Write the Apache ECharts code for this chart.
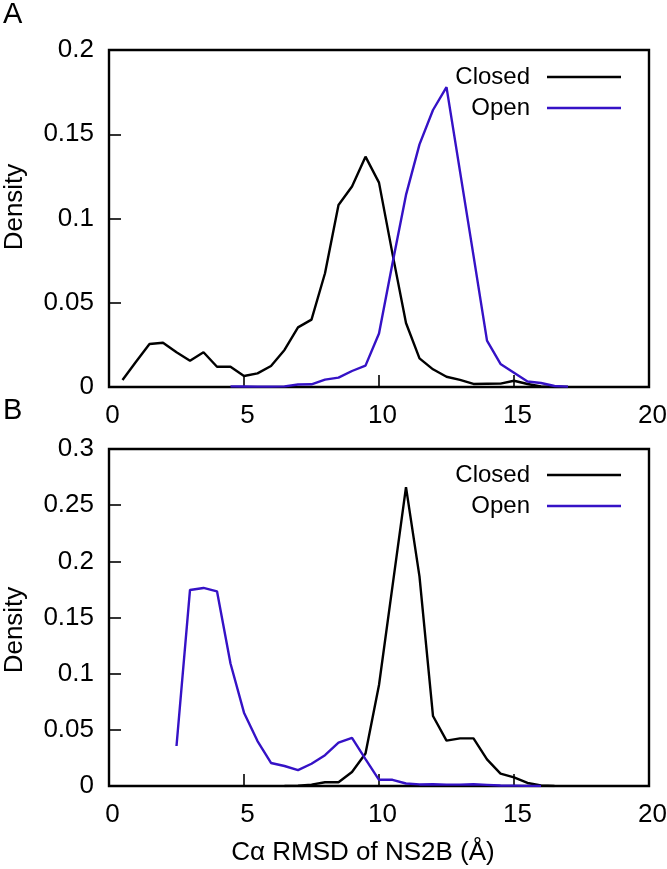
<!DOCTYPE html>
<html>
<head>
<meta charset="utf-8">
<script src="https://cdn.jsdelivr.net/npm/echarts@6/dist/echarts.min.js"></script>
<style>
html, body { margin: 0; padding: 0; background: #fff; }
#chart { width: 667px; height: 869px; }
</style>
</head>
<body>
<div id="chart"></div>
<script>
// ---- Data ----
const seriesNames = ['Closed', 'Open'];
const xTicks = [0, 5, 10, 15, 20];

// Panel A
const aClosedX = [0.5, 1.0, 1.5, 2.0, 2.5, 3.0, 3.5, 4.0, 4.5, 5.0, 5.5, 6.0, 6.5, 7.0, 7.5, 8.0, 8.5, 9.0, 9.5, 10.0, 10.5, 11.0, 11.5, 12.0, 12.5, 13.0, 13.5, 14.0, 14.5, 15.0, 15.5, 16.0, 16.5, 17.0];
const aClosedY = [0.0042, 0.015, 0.0255, 0.0263, 0.0206, 0.0156, 0.0206, 0.012, 0.012, 0.0065, 0.0081, 0.0125, 0.022, 0.0354, 0.040, 0.0675, 0.108, 0.119, 0.1367, 0.1213, 0.079, 0.038, 0.017, 0.0105, 0.0061, 0.0042, 0.0018, 0.0019, 0.002, 0.0037, 0.0018, 0.0003, 0, 0];
const aOpenX = [4.5, 5.0, 5.5, 6.0, 6.5, 7.0, 7.5, 8.0, 8.5, 9.0, 9.5, 10.0, 10.5, 11.0, 11.5, 12.0, 12.5, 13.0, 13.5, 14.0, 14.5, 15.0, 15.5, 16.0, 16.5, 17.0];
const aOpenY = [0.0004, 0.0003, 0.0002, 0.0002, 0.0004, 0.0015, 0.0016, 0.0044, 0.0056, 0.0095, 0.0127, 0.0318, 0.0734, 0.114, 0.144, 0.1644, 0.178, 0.128, 0.078, 0.0275, 0.0137, 0.0085, 0.0033, 0.0024, 0.0006, 0.0002];

// Panel B
const bClosedX = [6.5, 7.0, 7.5, 8.0, 8.5, 9.0, 9.5, 10.0, 10.5, 11.0, 11.5, 12.0, 12.5, 13.0, 13.5, 14.0, 14.5, 15.0, 15.5, 16.0, 16.5];
const bClosedY = [0, 0.0003, 0.0012, 0.0033, 0.0033, 0.0125, 0.029, 0.0899, 0.178, 0.266, 0.1864, 0.0623, 0.0404, 0.0424, 0.0424, 0.0237, 0.011, 0.0077, 0.0027, 0.0005, 0];
const bOpenX = [2.5, 3.0, 3.5, 4.0, 4.5, 5.0, 5.5, 6.0, 6.5, 7.0, 7.5, 8.0, 8.5, 9.0, 9.5, 10.0, 10.5, 11.0, 11.5, 12.0, 12.5, 13.0, 13.5, 14.0, 14.5, 15.0, 15.5, 16.0];
const bOpenY = [0.0356, 0.1745, 0.1763, 0.1733, 0.109, 0.0653, 0.040, 0.0205, 0.0178, 0.0142, 0.0198, 0.0274, 0.0386, 0.0428, 0.024, 0.0055, 0.0055, 0.0022, 0.0014, 0.0015, 0.0012, 0.0012, 0.0015, 0.001, 0.0005, 0.0003, 0.0001, 0];

const xLabel = 'C\u03b1 RMSD of NS2B (\u00c5)';
const yLabel = 'Density';

// ---- Chart ----
const FONT = '"Liberation Sans", Arial, Helvetica, sans-serif';
const BLUE = '#3512c6';
const zip = (xs, ys) => xs.map((x, i) => [x, ys[i]]);

function xAxis(gridIndex, withName) {
  return {
    type: 'value', gridIndex, min: 0, max: 20, interval: 5,
    axisLine: { show: false },
    axisTick: { show: true, inside: true, length: 12, lineStyle: { color: '#000', width: 1.6 } },
    axisLabel: { color: '#000', fontSize: 26, fontFamily: FONT, margin: 16, padding: [0, 0, 0, 7],
      hideOverlap: false, showMinLabel: true, showMaxLabel: true,
      formatter: v => String(v) },
    splitLine: { show: false },
    name: withName ? xLabel : '',
    nameLocation: 'middle', nameGap: 54,
    nameTextStyle: { color: '#000', fontSize: 26, fontFamily: FONT, padding: [0, 32, 0, 0] }
  };
}
function yAxis(gridIndex, max, shiftPad) {
  return {
    type: 'value', gridIndex, min: 0, max, interval: 0.05,
    axisLine: { show: false },
    axisTick: { show: true, inside: true, length: 12, lineStyle: { color: '#000', width: 1.6 } },
    axisLabel: { color: '#000', fontSize: 26, fontFamily: FONT, margin: 15, showMinLabel: true, showMaxLabel: true },
    splitLine: { show: false },
    name: yLabel, nameLocation: 'middle', nameRotate: 90, nameGap: 81,
    nameTextStyle: { color: '#000', fontSize: 26, fontFamily: FONT, padding: shiftPad }
  };
}
function legend(top) {
  return {
    data: seriesNames, orient: 'vertical', align: 'right', right: 46, top,
    padding: 0, itemGap: 7, itemWidth: 74, itemHeight: 2.4, icon: 'rect',
    selectedMode: false,
    textStyle: { color: '#000', fontSize: 24, fontFamily: FONT, lineHeight: 24, padding: [0, 12, 0, 0] }
  };
}
function line(name, data, xi, color) {
  return {
    type: 'line', name, data, xAxisIndex: xi, yAxisIndex: xi,
    showSymbol: false, symbol: 'none',
    lineStyle: { color, width: 2.4 }, itemStyle: { color },
    animation: false
  };
}

const gridBase = { left: 109, width: 540, height: 337, show: true, borderColor: '#000', borderWidth: 2.4,
  backgroundColor: 'transparent', containLabel: false, outerBoundsMode: 'none' };

const chart = echarts.init(document.getElementById('chart'), null, { renderer: 'canvas' });
chart.setOption({
  backgroundColor: '#fff',
  animation: false,
  grid: [
    Object.assign({ top: 50 }, gridBase),
    Object.assign({ top: 449 }, gridBase)
  ],
  xAxis: [xAxis(0, false), xAxis(1, true)],
  yAxis: [yAxis(0, 0.2, [0, 0, 0, 23]), yAxis(1, 0.3, [0, 25, 0, 0])],
  legend: [legend(65), legend(463)],
  series: [
    line('Closed', zip(aClosedX, aClosedY), 0, '#000'),
    line('Open', zip(aOpenX, aOpenY), 0, BLUE),
    line('Closed', zip(bClosedX, bClosedY), 1, '#000'),
    line('Open', zip(bOpenX, bOpenY), 1, BLUE)
  ],
  graphic: [
    { type: 'text', left: 3, top: 0, style: { text: 'A', fontSize: 29, fontFamily: FONT, fill: '#000' } },
    { type: 'text', left: 3, top: 396, style: { text: 'B', fontSize: 29, fontFamily: FONT, fill: '#000' } }
  ]
});
</script>
</body>
</html>
